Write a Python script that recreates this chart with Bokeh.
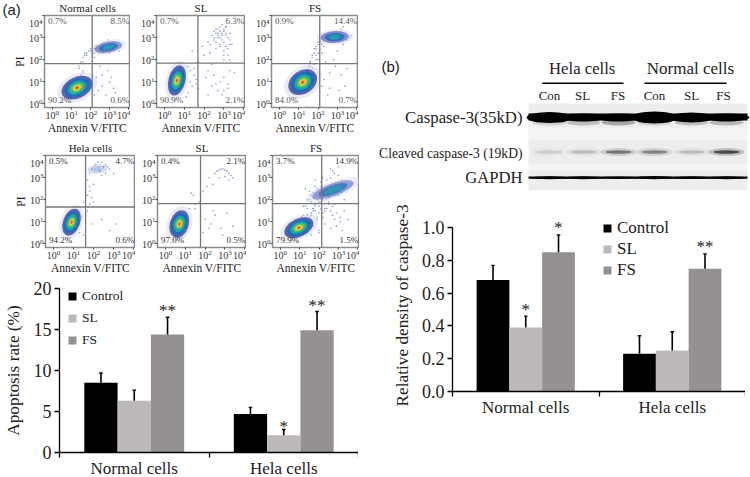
from bokeh.plotting import figure
from bokeh.models import Label, Span, FixedTicker, Range1d, Legend, LegendItem, LogTicker
from bokeh.embed import file_html
from bokeh.resources import INLINE

SERIF = "Liberation Serif"
SANS = "Liberation Sans"

# ---------- apoptosis bars ----------
groups = ["Normal cells", "Hela cells"]
series = ["Control", "SL", "FS"]
apo_control = [8.5, 4.7]
apo_sl = [6.3, 2.1]
apo_fs = [14.4, 14.9]
apo_control_err = [1.2, 0.8]
apo_sl_err = [1.3, 0.7]
apo_fs_err = [2.1, 2.3]
# ---------- caspase bars ----------
cas_control = [0.68, 0.23]
cas_sl = [0.39, 0.25]
cas_fs = [0.85, 0.75]
cas_control_err = [0.09, 0.11]
cas_sl_err = [0.07, 0.115]
cas_fs_err = [0.105, 0.09]
# ---------- blot ----------
lanes = ["Con", "SL", "FS", "Con", "SL", "FS"]
casp_density = [11, 8, 8, 12, 10, 8]
casp_lower = [0.2, 0.3, 0.45, 0.2, 0.3, 0.35]
cleaved_density = [0.12, 0.2, 0.5, 0.45, 0.2, 0.75]
gapdh_density = [3.0, 3.0, 2.6, 3.2, 2.8, 3.0]
# ---------- flow cytometry: exponents of sparse events ----------
flow_titles = ["Normal cells", "SL", "FS", "Hela cells", "SL", "FS"]
flow_tl = ["0.7%", "0.7%", "0.9%", "0.5%", "0.4%", "3.7%"]
flow_tr = ["8.5%", "6.3%", "14.4%", "4.7%", "2.1%", "14.9%"]
flow_bl = ["90.2%", "90.9%", "84.0%", "94.2%", "97.0%", "79.9%"]
flow_br = ["0.6%", "2.1%", "0.7%", "0.6%", "0.5%", "1.5%"]
gate_x = [2.09, 1.69, 2.09, 1.60, 1.77, 2.14]
gate_y = [1.82, 1.85, 1.82, 1.67, 1.82, 1.82]
# main and upper populations (log10 x, log10 y)
main_x = [1.30, 0.63, 1.21, 0.90, 0.70, 0.96]
main_y = [0.73, 1.06, 0.98, 0.98, 0.90, 0.73]
main_w = [33, 17, 31, 17, 19, 31]
main_h = [21, 31, 23, 28, 28, 18]
main_a = [0.45, -0.25, 0.6, -0.35, -0.3, 0.45]
upper_x = [2.93, None, 2.86, 2.20, None, 2.72]
upper_y = [2.57, None, 3.03, 3.40, None, 2.45]
upper_w = [28, 0, 28, 20, 0, 44]
upper_h = [11, 0, 12, 9, 0, 13]
upper_a = [0.2, 0, 0.05, 0.1, 0, 0.35]
upper_core = [0.9, 0, 1.0, 0.15, 0, 0.8]
ev_x = [
    [1.4, 1.6, 1.7, 1.8, 2.0, 2.1, 2.2, 2.3, 2.4, 2.5, 1.5, 1.6, 1.5, 1.4, 1.7, 2.4, 2.6, 2.8, 3.0, 3.2, 2.6, 2.9, 3.1, 2.5, 3.3, 2.2, 2.0, 1.9, 2.3, 2.7, 3.4, 3.5, 2.6, 2.9, 2.2, 3.0, 1.6, 1.7, 1.8, 1.9, 2.0, 2.1, 2.2, 2.3, 1.5, 1.6],
    [1.4, 1.7, 1.9, 2.0, 2.2, 2.3, 2.5, 2.6, 2.7, 2.8, 2.9, 3.0, 3.1, 3.2, 3.3, 2.4, 2.6, 2.8, 3.0, 3.2, 3.4, 3.1, 2.9, 2.7, 3.3, 3.0, 2.2, 2.5, 2.8, 3.2, 3.0, 1.2, 1.3, 1.5, 1.2, 1.1, 1.6, 1.7, 2.1, 2.4, 2.7, 3.0, 3.3, 2.9, 2.6, 3.5, 3.2, 2.2, 2.4, 2.5, 2.6, 2.7, 2.8, 2.9, 3.0, 3.1, 2.3, 2.5, 2.7, 2.9, 3.1, 3.3, 2.6, 2.8, 3.0, 3.2, 2.8, 3.0, 3.1, 3.3, 1.4, 1.5, 1.6, 1.3],
    [1.4, 1.5, 1.6, 1.7, 1.8, 1.9, 2.0, 2.1, 2.2, 2.4, 2.0, 1.7, 1.5, 1.8, 2.3, 2.5, 3.4, 3.5, 3.6, 3.2, 3.7, 3.3, 2.6, 2.3, 2.9, 3.2, 3.4, 2.6, 2.8, 3.0, 2.4, 2.1, 1.8, 2.2, 2.5, 3.1, 3.5, 1.6, 1.9, 3.3, 1.6, 1.7, 1.8, 1.9, 2.0, 2.1, 2.2, 2.3, 2.4, 1.9, 2.0, 2.1, 2.2],
    [1.7, 1.8, 1.9, 1.8, 2.0, 1.7, 1.6, 1.5, 1.7, 1.8, 2.3, 2.5, 2.6, 2.8, 3.0, 1.9, 2.1, 2.4, 2.7, 2.2, 2.6, 2.4, 1.6, 1.4, 1.3, 1.5, 1.9, 2.4, 2.8, 3.1, 2.0, 1.8],
    [1.2, 1.4, 1.7, 1.9, 2.1, 2.2, 2.4, 2.5, 2.6, 2.7, 2.8, 2.9, 3.0, 3.1, 3.2, 3.3, 3.4, 2.7, 3.0, 3.2, 2.4, 1.5, 1.3, 2.0, 2.3, 2.5, 2.8, 3.1, 1.9, 1.5, 2.9, 2.2, 3.4],
    [0.9, 1.1, 1.4, 1.6, 1.7, 1.9, 2.0, 2.1, 1.6, 1.8, 2.0, 2.2, 1.5, 1.7, 1.9, 2.2, 2.4, 2.6, 2.8, 3.0, 3.2, 3.4, 2.3, 2.5, 2.7, 2.9, 3.1, 3.3, 1.8, 2.1, 2.4, 1.3, 1.5, 1.2, 1.4, 1.0, 2.0, 2.3, 2.6, 2.9, 3.2, 3.5, 3.0, 2.7, 2.2, 1.9, 2.5, 1.7, 2.2, 2.8, 2.4, 2.0, 1.6, 3.3, 2.8, 2.1, 1.8, 3.0, 2.6, 3.1, 1.5, 1.6, 1.7, 1.8, 1.9, 2.0, 2.1, 2.2, 2.3, 1.3, 1.4, 1.5, 1.6, 1.7, 1.8, 1.9, 2.0, 2.1, 2.4, 2.5, 2.6, 2.7, 1.1, 1.2, 1.3, 1.4],
]
ev_y = [
    [1.6, 1.9, 2.2, 2.3, 2.4, 2.4, 2.3, 2.5, 2.4, 2.6, 1.3, 1.5, 1.1, 1.7, 1.2, 0.6, 0.8, 0.4, 1.0, 0.7, 1.3, 1.5, 1.2, 1.7, 0.5, 0.4, 0.9, 0.7, 1.2, 2.8, 2.6, 2.4, 2.7, 2.9, 2.1, 2.3, 2.1, 2.3, 2.2, 2.4, 2.5, 2.3, 2.5, 2.6, 1.9, 1.4],
    [2.4, 1.9, 2.6, 2.2, 2.8, 2.3, 3.0, 3.2, 3.1, 3.3, 2.9, 3.4, 3.2, 3.0, 2.9, 1.8, 2.5, 2.7, 2.4, 2.2, 2.7, 3.5, 3.6, 3.4, 2.0, 2.0, 1.5, 1.3, 1.0, 0.9, 0.6, 1.7, 1.5, 1.6, 0.5, 0.3, 0.9, 0.7, 1.2, 0.8, 0.6, 1.2, 1.5, 0.4, 0.9, 1.4, 0.7, 0.4, 3.1, 3.3, 3.4, 3.2, 3.5, 3.1, 3.3, 3.5, 2.7, 2.9, 3.0, 3.2, 3.1, 2.7, 2.8, 2.6, 2.8, 2.5, 3.0, 2.2, 2.6, 3.2, 0.8, 1.3, 1.1, 1.0],
    [1.5, 1.7, 1.9, 2.1, 2.3, 2.5, 2.7, 2.8, 3.0, 3.0, 2.3, 1.6, 1.3, 1.8, 2.6, 3.0, 3.1, 2.9, 3.0, 3.4, 3.1, 2.7, 1.4, 1.1, 1.7, 1.3, 0.8, 0.7, 2.0, 2.4, 1.9, 1.3, 1.1, 0.8, 0.4, 0.6, 1.6, 1.7, 2.0, 3.5, 1.9, 2.2, 2.5, 2.6, 2.8, 2.9, 2.7, 3.0, 3.1, 2.2, 2.0, 2.5, 2.3],
    [1.5, 1.8, 2.1, 2.4, 2.7, 2.9, 3.0, 1.9, 2.2, 2.6, 3.3, 3.5, 3.6, 3.4, 3.2, 3.4, 3.6, 3.1, 3.5, 3.7, 3.2, 3.7, 1.4, 1.2, 0.5, 0.4, 0.9, 1.1, 0.6, 0.9, 1.9, 3.2],
    [1.6, 2.2, 1.9, 2.4, 2.6, 3.0, 2.7, 3.2, 3.3, 3.35, 3.4, 3.4, 3.35, 3.3, 3.2, 3.1, 3.0, 3.0, 3.05, 2.9, 1.5, 1.8, 2.3, 1.1, 0.9, 1.3, 0.7, 1.4, 0.5, 1.6, 0.4, 0.7, 0.8],
    [0.8, 1.2, 1.6, 1.9, 2.3, 2.5, 2.1, 1.9, 1.3, 1.5, 1.7, 1.4, 1.0, 0.8, 1.1, 2.0, 2.9, 3.0, 3.2, 3.1, 2.9, 2.7, 1.6, 1.9, 1.7, 1.4, 1.2, 1.5, 2.6, 2.8, 2.3, 2.5, 2.4, 1.7, 2.0, 0.3, 0.6, 0.9, 0.7, 0.8, 0.6, 1.1, 2.2, 3.3, 3.0, 2.2, 2.1, 1.6, 1.2, 1.1, 1.6, 0.5, 0.4, 2.0, 1.8, 2.6, 2.9, 3.5, 3.4, 1.0, 1.2, 1.4, 1.6, 1.8, 2.0, 1.9, 2.1, 2.3, 1.5, 1.7, 1.3, 2.0, 2.2, 1.5, 1.7, 1.2, 1.4, 1.6, 2.0, 1.8, 1.5, 1.3, 1.2, 1.3, 1.0, 0.9],
]

LX0, LX1 = -0.40, 4.09
LY0, LY1 = -0.17, 4.01
RINGS = [(1.0, "#3c4ca6", 0.85), (0.80, "#1f6db5", 1), (0.60, "#1fa3a8", 1),
         (0.42, "#5fc060", 1), (0.26, "#e6d43a", 1), (0.13, "#e8582a", 1)]


def place(p, x, y):
    p.styles = {"position": "absolute", "left": f"{x}px", "top": f"{y}px"}
    return p


def flow_panel(i, fx, fy, fw, pi=False, text_color="#555555"):
    left, top, bottom = (44 if pi else 24), 15, 30
    p = figure(frame_width=fw, frame_height=92, x_axis_type="log", y_axis_type="log",
               x_range=Range1d(10 ** LX0, 10 ** LX1), y_range=Range1d(10 ** LY0, 10 ** LY1),
               output_backend="svg", toolbar_location=None,
               min_border_left=left, min_border_right=0, min_border_top=top, min_border_bottom=bottom,
               background_fill_color="white", outline_line_color="#8c8c8c", outline_line_width=1.5,
               border_fill_alpha=0)
    place(p, fx - left, fy - top)
    p.grid.visible = False
    for ax in (p.xaxis[0], p.yaxis[0]):
        ax.axis_line_color = "#8c8c8c"
        ax.major_tick_line_color = "#444444"
        ax.major_tick_out = 2
        ax.major_tick_in = 0
        ax.minor_tick_line_color = None
        ax.major_label_text_font = SERIF
        ax.major_label_text_font_size = "10px"
        ax.major_label_text_color = "#333333"
        ax.major_label_standoff = 0
        ax.axis_label_text_font = SERIF
        ax.axis_label_text_font_style = "normal"
        ax.axis_label_text_color = "#222222"
        ax.ticker = LogTicker(num_minor_ticks=0)
    p.xaxis[0].axis_label = "Annexin V/FITC"
    p.xaxis[0].axis_label_text_font_size = "11.5px"
    p.xaxis[0].axis_label_standoff = 0
    p.yaxis[0].major_label_overrides = {10000: " "}
    if pi:
        p.yaxis[0].axis_label = "PI"
        p.yaxis[0].axis_label_text_font_size = "11.5px"
        p.yaxis[0].axis_label_standoff = 0

    p.scatter([10 ** v for v in ev_x[i]], [10 ** v for v in ev_y[i]], size=1.6,
              color="#4a56b4", alpha=0.65, line_color=None)

    def pop(lx, ly, w, h, a, rings, halo=0.5):
        p.ellipse([10 ** lx], [10 ** ly], width=w * 1.3, height=h * 1.3, angle=a,
                  width_units="screen", height_units="screen", color="#d3d6ee", alpha=halo, line_color=None)
        for scale, col, alpha in rings:
            p.ellipse([10 ** lx], [10 ** ly], width=w * scale, height=h * scale, angle=a,
                      width_units="screen", height_units="screen", color=col, alpha=alpha, line_color=None)

    pop(main_x[i], main_y[i], main_w[i], main_h[i], main_a[i], RINGS)
    if upper_x[i] is not None:
        c = upper_core[i]
        r = [(1.0, "#4e5cb8", 0.55 * c + 0.1), (0.7, "#2a6fb8", 0.9 * c), (0.42, "#25a0b0", 0.9 * c)]
        pop(upper_x[i], upper_y[i], upper_w[i], upper_h[i], upper_a[i], r, halo=0.5 * c)

    p.add_layout(Span(location=10 ** gate_x[i], dimension="height", line_color="#777777", line_width=1.3))
    p.add_layout(Span(location=10 ** gate_y[i], dimension="width", line_color="#777777", line_width=1.3))

    lo_x, hi_x, lo_y, hi_y = LX0 + 0.18, LX1 - 0.06, LY0 + 0.33, LY1 - 0.26
    for x, y, t, al in [(lo_x, hi_y, flow_tl[i], "left"), (hi_x, hi_y, flow_tr[i], "right"),
                        (lo_x, lo_y, flow_bl[i], "left"), (hi_x, lo_y, flow_br[i], "right")]:
        p.add_layout(Label(x=10 ** x, y=10 ** y, text=t, text_font=SERIF, text_font_size="9px",
                           text_color=text_color, text_align=al, text_baseline="middle"))
    return p


def bars(ctrl, sl, fs, e_ctrl, e_sl, e_fs, ymax, axis_top, ticks, ytitle, bw, fx, fy, frame_w, frame_h, borders,
         legend_xy, legend_font, legend_spacing, stars, fmt=None, standoff=5):
    l, t, b = borders
    p = figure(frame_width=frame_w, frame_height=frame_h,
               x_range=Range1d(0, 2), y_range=Range1d(0, ymax), output_backend="svg", toolbar_location=None,
               min_border_left=l, min_border_right=0, min_border_top=t, min_border_bottom=b,
               outline_line_color=None, border_fill_alpha=0, background_fill_alpha=0)
    place(p, fx - l, fy - t)
    p.grid.visible = False
    centers = [0.5, 1.5]
    cols = ["#000000", "#bdb9b9", "#959191"]
    items = []
    for k, (vals, errs, col, name) in enumerate(zip((ctrl, sl, fs), (e_ctrl, e_sl, e_fs), cols, series)):
        xs = [c + (k - 1) * bw for c in centers]
        rr = p.vbar(x=xs, top=vals, width=bw, bottom=0, color=col, line_color=None)
        items.append(LegendItem(label=name, renderers=[rr]))
        tops = [v + e for v, e in zip(vals, errs)]
        p.segment(xs, vals, xs, tops, line_color="#000000", line_width=1.6)
        p.scatter(xs, tops, marker="dash", size=3.5, line_color="#000000", line_width=1.4)
    leg = Legend(items=items, location=legend_xy, orientation="vertical", background_fill_alpha=0,
                 border_line_color=None, glyph_width=10, glyph_height=10, label_standoff=5,
                 spacing=legend_spacing, padding=0, margin=0, label_text_font=SERIF,
                 label_text_font_size=legend_font, label_height=10, label_text_color="#222222")
    p.add_layout(leg, "center")
    xa = p.xaxis[0]
    xa.ticker = FixedTicker(ticks=centers, minor_ticks=[0, 1, 2])
    xa.major_label_overrides = {0.5: groups[0], 1.5: groups[1]}
    xa.major_tick_line_color = None
    xa.major_tick_out = 0
    xa.major_tick_in = 0
    xa.minor_tick_out = 5
    xa.minor_tick_in = 0
    xa.minor_tick_line_color = "#000000"
    xa.minor_tick_line_width = 1.3
    xa.axis_line_color = "#000000"
    xa.axis_line_width = 1.3
    xa.major_label_standoff = 1
    xa.major_label_text_font = SERIF
    xa.major_label_text_font_size = "17px"
    xa.major_label_text_color = "#222222"
    ya = p.yaxis[0]
    ya.ticker = FixedTicker(ticks=ticks)
    ya.bounds = (0, axis_top)
    ya.minor_tick_line_color = None
    ya.major_tick_out = 5
    ya.major_tick_in = 0
    ya.major_tick_line_color = "#000000"
    ya.major_tick_line_width = 1.3
    ya.axis_line_color = "#000000"
    ya.axis_line_width = 1.3
    ya.major_label_standoff = 3
    ya.major_label_text_font = SERIF
    ya.major_label_text_font_size = "18px"
    ya.major_label_text_color = "#222222"
    if fmt:
        ya.major_label_overrides = {v: fmt % v for v in ticks}
    ya.axis_label = ytitle
    ya.axis_label_text_font = SERIF
    ya.axis_label_text_font_style = "normal"
    ya.axis_label_text_font_size = "17.3px"
    ya.axis_label_text_color = "#222222"
    ya.axis_label_standoff = standoff
    for x, y, s in stars:
        p.add_layout(Label(x=x, y=y, text=s, text_font=SERIF, text_font_size="17px", text_align="center",
                           text_baseline="middle", y_offset=-3, text_color="#222222"))
    return p


flow_fx = [44, 156, 271, 45, 157, 272]
flow_fy = [15, 15, 15, 155, 155, 155]
flow_fw = [86, 89, 87, 90, 89, 87]
panels = [flow_panel(i, flow_fx[i], flow_fy[i], flow_fw[i], pi=i in (0, 3),
                     text_color="#555555" if i < 3 else "#333333") for i in range(6)]

bar_a = bars(apo_control, apo_sl, apo_fs, apo_control_err, apo_sl_err, apo_fs_err, 20, 20, [0, 5, 10, 15, 20],
             "Apoptosis rate (%)", 0.2227, 59, 288, 299, 164, (70, 8, 25), (8, 104), "13.5px", 6,
             [(0.5 + 0.2227, 17.7, "**"), (1.5 + 0.2227, 18.3, "**"), (1.5, 3.5, "*")], standoff=8)
bar_b = bars(cas_control, cas_sl, cas_fs, cas_control_err, cas_sl_err, cas_fs_err, 1.05, 1.0,
             [0, 0.2, 0.4, 0.6, 0.8, 1.0],
             "Relative density of caspase-3", 0.2236, 452, 219, 293, 172, (90, 30, 30), (150, 111), "17px", 1,
             [(0.5 + 0.2236, 1.02, "*"), (0.5, 0.52, "*"), (1.5 + 0.2236, 0.906, "**")], fmt="%.1f", standoff=7)

# ---------- blot panel ----------
blot = figure(width=375, height=205, x_range=Range1d(0, 375), y_range=Range1d(205, 0),
              output_backend="svg", toolbar_location=None, min_border=0, outline_line_color=None,
              x_axis_type=None, y_axis_type=None, border_fill_alpha=0, background_fill_alpha=0)
place(blot, 375, 0)
blot.grid.visible = False
lane_x = [174, 208, 243, 279, 316, 351]
blot.quad(left=[153], right=[372], top=[103], bottom=[190], color="#ededed", line_color=None)
blot.quad(left=[153], right=[372], top=[127], bottom=[140], color="#f4f4f4", line_color=None)
blot.quad(left=[153], right=[372], top=[163], bottom=[170], color="#f4f4f4", line_color=None)
# caspase-3 band
blot.ellipse(lane_x, [122] * 6, width=34, height=6, color="#555555",
             alpha=casp_lower, line_color=None)
blot.line([153, 372], [116.5, 116.5], line_color="#000000", line_width=7)
blot.ellipse(lane_x, [117] * 6, width=46, height=casp_density, color="#000000", line_color=None)
# cleaved band
blot.ellipse(lane_x, [151.5] * 6, width=36, height=8, color="#8a8a8a",
             alpha=[d * 0.6 for d in cleaved_density], line_color=None)
blot.ellipse(lane_x, [151.5] * 6, width=26, height=3.5, color="#222222",
             alpha=cleaved_density, line_color=None)
# GAPDH band
blot.line([153, 372], [177.2, 177.2], line_color="#111111", line_width=2.2)
blot.ellipse(lane_x, [177.2] * 6, width=40, height=gapdh_density, color="#000000", line_color=None)


def blot_text(x, y, t, size, align="center", font=SERIF):
    blot.add_layout(Label(x=x, y=y, text=t, text_font=font, text_font_size=size, text_align=align,
                          text_baseline="middle", text_color="#222222"))


blot_text(6, 66, "(b)", "15px", "left", SANS)
blot_text(206.7, 68, "Hela cells", "16.7px")
blot_text(315, 68, "Normal cells", "17px")
blot.segment([166.7, 269], [82.7, 82.7], [248, 351], [82.7, 82.7], line_color="#000000", line_width=1.5)
for lx, name, off in zip(lane_x, lanes, [0, -1, -0.5, 0, 0, -3]):
    blot_text(lx + off, 95, name, "13px")
blot_text(147, 117, "Caspase-3(35kD)", "16.8px", "right")
blot_text(147, 153, "Cleaved caspase-3 (19kD)", "13.6px", "right")
blot_text(147, 177, "GAPDH", "16.6px", "right")

# ---------- overlay carrying the few texts that lie outside any plot area ----------
over = figure(width=750, height=477, x_range=Range1d(0, 750), y_range=Range1d(477, 0),
              output_backend="svg", toolbar_location=None, min_border=0, outline_line_color=None,
              x_axis_type=None, y_axis_type=None, border_fill_alpha=0, background_fill_alpha=0)
place(over, 0, 0)
over.grid.visible = False
over.add_layout(Label(x=2, y=9, text="(a)", text_font=SANS, text_font_size="15px", text_color="#222222",
                      text_baseline="middle"))
for i in range(6):
    cx = flow_fx[i] + flow_fw[i] / 2
    over.add_layout(Label(x=cx, y=flow_fy[i] - 8, text=flow_titles[i], text_font=SERIF, text_font_size="11px",
                          text_align="center", text_baseline="middle", text_color="#222222"))
    over.add_layout(Label(x=flow_fx[i] - 2, y=flow_fy[i] + 8, text="10⁴", text_font=SERIF, text_font_size="10px",
                          text_align="right", text_baseline="middle", text_color="#333333"))

open("out.html", "w").write(file_html(panels + [bar_a, blot, bar_b, over], INLINE))
